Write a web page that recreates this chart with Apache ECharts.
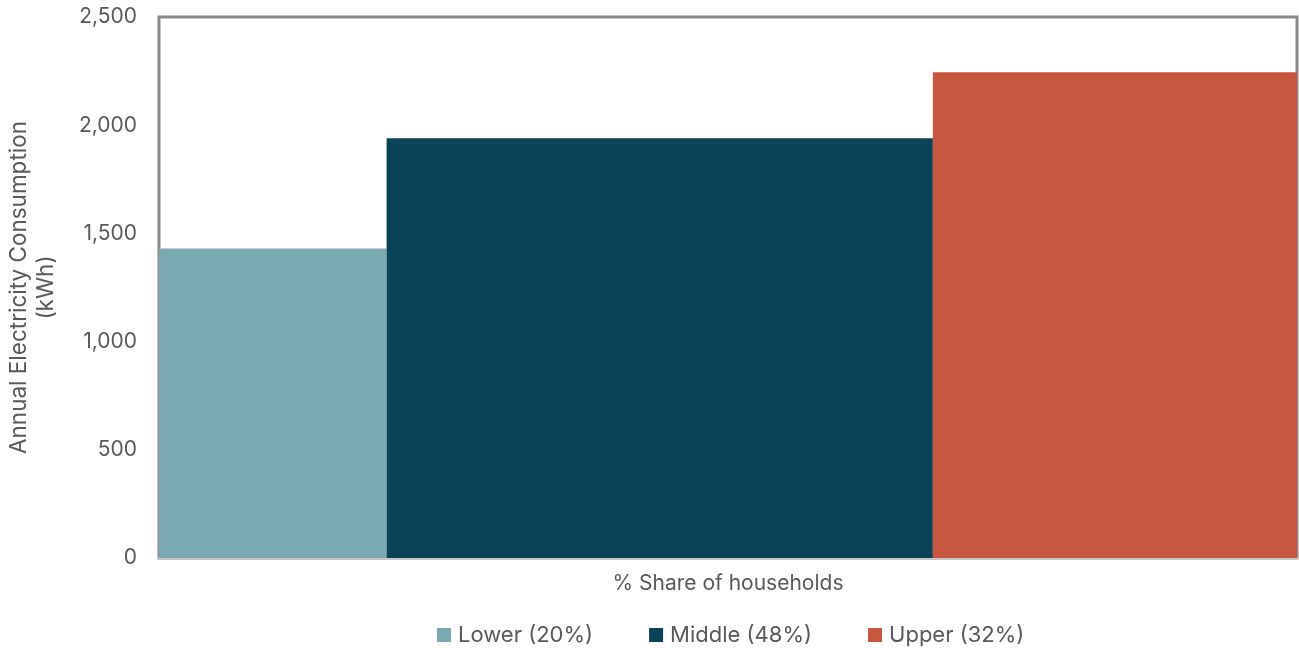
<!DOCTYPE html>
<html>
<head>
<meta charset="utf-8">
<script src="https://cdn.jsdelivr.net/npm/echarts@6/dist/echarts.min.js"></script>
<style>
  html, body { margin: 0; padding: 0; background: #fff; }
  #chart { width: 1299px; height: 648px; }
</style>
</head>
<body>
<div id="chart"></div>
<script>
// Household income groups, their share of households (%) and annual electricity use (kWh)
const groups = ['Lower (20%)', 'Middle (48%)', 'Upper (32%)'];
const shares = [20, 48, 32];
const consumption = [1430, 1940, 2245];
const colors = ['#7ba9b1', '#0a4258', '#c7573e'];
const yTicks = [0, 500, 1000, 1500, 2000, 2500];

// Cumulative x-ranges for the variable-width bars
let acc = 0;
const ranges = shares.map(s => { const r = [acc, acc + s]; acc += s; return r; });

const font = 'Inter, "Noto Sans", sans-serif';
const textColor = '#595959';

const series = groups.map((name, i) => ({
  type: 'custom',
  name: name,
  itemStyle: { color: colors[i] },
  data: [[ranges[i][0], ranges[i][1], consumption[i]]],
  encode: { x: [0, 1], y: 2 },
  renderItem: function (params, api) {
    const p0 = api.coord([api.value(0), 0]);
    const p1 = api.coord([api.value(1), api.value(2)]);
    return {
      type: 'rect',
      shape: { x: p0[0], y: p1[1], width: p1[0] - p0[0], height: p0[1] - p1[1] },
      style: { fill: colors[i] }
    };
  }
}));

const chart = echarts.init(document.getElementById('chart'));
chart.setOption({
  animation: false,
  textStyle: { fontFamily: font },
  grid: {
    left: 159, right: 2, top: 17, bottom: 90,
    outerBoundsMode: 'none',
    containLabel: false,
    show: true, borderColor: '#8a8a8a', borderWidth: 3, backgroundColor: 'transparent'
  },
  legend: {
    data: groups,
    top: 619,
    left: 432,
    icon: 'rect',
    itemWidth: 14,
    itemHeight: 14,
    itemGap: 56,
    textStyle: { color: textColor, fontSize: 22, fontFamily: font, padding: [0, 0, 0, 2] }
  },
  xAxis: {
    type: 'value',
    min: 0,
    max: 100,
    name: '% Share of households',
    nameLocation: 'middle',
    nameGap: 15,
    nameTextStyle: { color: textColor, fontSize: 21, fontFamily: font },
    axisLine: { show: true, lineStyle: { color: '#c8c8c8', width: 2 } },
    axisTick: { show: false },
    axisLabel: { show: false },
    splitLine: { show: false }
  },
  yAxis: {
    type: 'value',
    min: yTicks[0],
    max: yTicks[yTicks.length - 1],
    interval: yTicks[1] - yTicks[0],
    name: 'Annual Electricity Consumption\n(kWh)',
    nameLocation: 'middle',
    nameGap: 99,
    nameTextStyle: { color: textColor, fontSize: 22.5, fontFamily: font, lineHeight: 27 },
    axisLine: { show: false },
    axisTick: { show: false },
    splitLine: { show: false },
    axisLabel: {
      color: textColor,
      fontSize: 21,
      fontFamily: font,
      margin: 22,
      formatter: v => v.toLocaleString('en-US')
    }
  },
  series: series
});
</script>
</body>
</html>
